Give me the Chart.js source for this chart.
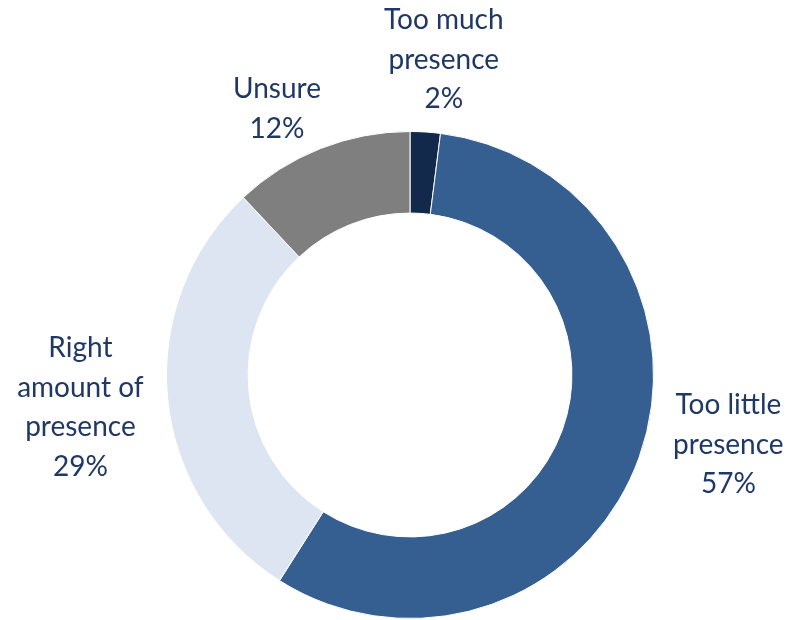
<!DOCTYPE html>
<html>
<head>
<meta charset="utf-8">
<script src="https://cdn.jsdelivr.net/npm/chart.js@4"></script>
<style>
  html, body { margin: 0; padding: 0; background: #ffffff; }
  #wrap { width: 789px; height: 620px; position: relative; }
</style>
</head>
<body>
<div id="wrap"><canvas id="chart1" width="789" height="620"></canvas></div>
<script>
// categories (each label split into lines the way the picture shows them)
const categories = [
    ["Too much", "presence"],
    ["Too little", "presence"],
    ["Right", "amount of", "presence"],
    ["Unsure"]
];
const shares = [2, 57, 29, 12];
const sliceColors = ["#13294B", "#365F91", "#DCE5F1", "#7F7F7F"];

// where each label sits: distance from the centre plus a small nudge
const labelPlace = [
    { r: 315, dx: 14, dy: -1 },
    { r: 315, dx: 22, dy: -37 },
    { r: 315, dx: -16, dy: 3 },
    { r: 315, dx: -17, dy: 27 }
];

const outsideLabels = {
    id: 'outsideLabels',
    afterDatasetsDraw(chart) {
        const ctx = chart.ctx;
        const meta = chart.getDatasetMeta(0);
        ctx.save();
        ctx.fillStyle = "#1F3864";
        ctx.font = "28px Lato";
        ctx.textAlign = "center";
        ctx.textBaseline = "middle";
        meta.data.forEach(function (arc, i) {
            const mid = (arc.startAngle + arc.endAngle) / 2;
            const p = labelPlace[i];
            const cx = arc.x + Math.cos(mid) * p.r + p.dx;
            const cy = arc.y + Math.sin(mid) * p.r + p.dy;
            const lines = categories[i].concat([shares[i] + "%"]);
            const lh = 39.5;
            const top = cy - (lines.length - 1) * lh / 2;
            lines.forEach(function (t, k) {
                ctx.fillText(t, cx, top + k * lh);
            });
        });
        ctx.restore();
    }
};

new Chart(document.getElementById('chart1'), {
    type: 'doughnut',
    data: {
        labels: categories.map(function (c) { return c.join(" "); }),
        datasets: [{
            data: shares,
            backgroundColor: sliceColors,
            borderColor: "#ffffff",
            borderWidth: 1
        }]
    },
    options: {
        responsive: false,
        animation: false,
        cutout: "66.5%",
        layout: { padding: { top: 131, bottom: 1, left: 166, right: 135 } },
        plugins: {
            legend: { display: false },
            tooltip: { enabled: false }
        }
    },
    plugins: [outsideLabels]
});
</script>
</body>
</html>
